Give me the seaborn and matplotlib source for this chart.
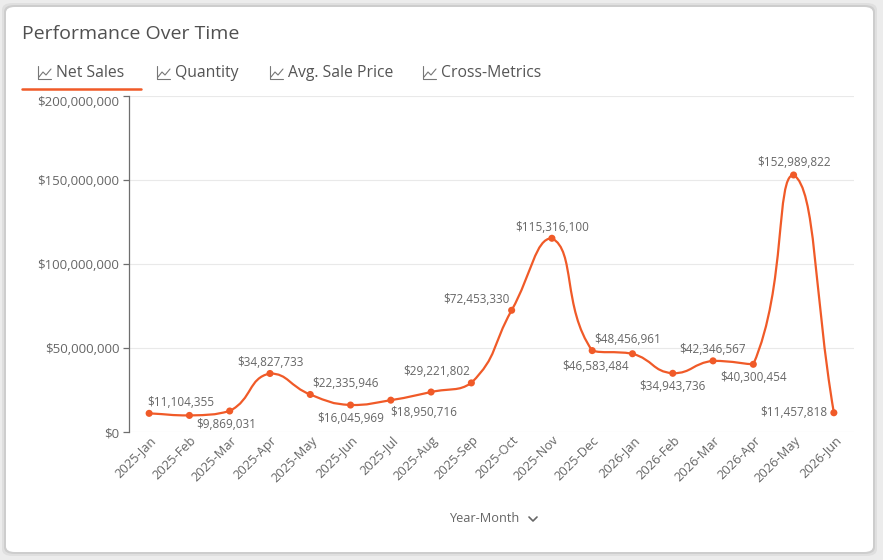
import numpy as np
import pandas as pd
import seaborn as sns
import matplotlib.pyplot as plt
import matplotlib.transforms as mtransforms
from matplotlib.path import Path
from matplotlib.patches import PathPatch, FancyBboxPatch
from matplotlib.lines import Line2D
from matplotlib.ticker import FuncFormatter

# data
months = ['2025-Jan', '2025-Feb', '2025-Mar', '2025-Apr', '2025-May', '2025-Jun',
          '2025-Jul', '2025-Aug', '2025-Sep', '2025-Oct', '2025-Nov', '2025-Dec',
          '2026-Jan', '2026-Feb', '2026-Mar', '2026-Apr', '2026-May', '2026-Jun']
net_sales = [11104355, 9869031, 12500000, 34827733, 22335946, 16045969,
             18950716, 23800000, 29221802, 72453330, 115316100, 48456961,
             46583484, 34943736, 42346567, 40300454, 152989822, 11457818]
y_ticks = [0, 50000000, 100000000, 150000000, 200000000]
tabs = ['Net Sales', 'Quantity', 'Avg. Sale Price', 'Cross-Metrics']

# label placement (pixel offsets from the point), None = label hidden
label_offsets = [(32, 11), (37, -9), None, (0, 11), (35, 11), (0, -13),
                 (33, -12), None, (-35, 11), (-35, 11), (0, 11), (35, 11),
                 (-37, -13), (0, -13), (0, 11), (0, -13), (0, 12), (-6, 0)]

ORANGE = '#f05a28'
GREY = '#666666'
W, H = 883, 560

sns.set_theme(style='white')
plt.rcParams['font.family'] = ['Open Sans', 'DejaVu Sans']


def fx(x):
    return x / W


def fy(y):
    return 1 - y / H


def smooth_path(ax, xs, ys, smooth=0.5):
    # echarts-like smoothing, worked out in screen pixels
    pts = ax.transData.transform(np.column_stack([xs, ys]))
    n = len(pts)
    cps = []
    for i in range(n):
        p = pts[i]
        prev = pts[i - 1] if i > 0 else p
        nxt = pts[i + 1] if i < n - 1 else p
        v = nxt - prev
        l0 = np.hypot(*(p - prev))
        l1 = np.hypot(*(nxt - p))
        r = l1 / (l0 + l1) if (l0 + l1) > 0 else 0.5
        c_in = np.clip(p - v * smooth * (1 - r), np.minimum(prev, p), np.maximum(prev, p))
        c_out = np.clip(p + v * smooth * r, np.minimum(p, nxt), np.maximum(p, nxt))
        cps.append((c_in, c_out))
    verts = [pts[0]]
    codes = [Path.MOVETO]
    for i in range(n - 1):
        verts += [cps[i][1], cps[i + 1][0], pts[i + 1]]
        codes += [Path.CURVE4] * 3
    verts = ax.transData.inverted().transform(np.array(verts))
    return Path(verts, codes)


fig = plt.figure(figsize=(W / 100, H / 100), dpi=100)
fig.patch.set_facecolor('#ececec')

# card
for k, a in [(4, 0.05), (2, 0.08)]:
    fig.add_artist(FancyBboxPatch((fx(6 - k), fy(552 + k)), fx(867 + 2 * k), (545 + 2 * k) / H,
                                  boxstyle='round,pad=0,rounding_size=0.012',
                                  transform=fig.transFigure, facecolor='black', alpha=a,
                                  edgecolor='none', zorder=0))
fig.add_artist(FancyBboxPatch((fx(6), fy(552)), fx(867), 545 / H,
                              boxstyle='round,pad=0,rounding_size=0.01',
                              transform=fig.transFigure, facecolor='white',
                              edgecolor='none', zorder=0))

fig.text(fx(22), fy(34), 'Performance Over Time', fontsize=14, color='#505050',
         va='center', ha='left', fontweight='medium')

# tabs
tab_x = [38, 157, 270, 423]
for t, x0 in zip(tabs, tab_x):
    fig.text(fx(x0 + 18), fy(73), t, fontsize=11.3, color='#555555', va='center', ha='left',
             fontweight='medium')
    fig.add_artist(Line2D([fx(x0), fx(x0), fx(x0 + 13)], [fy(66), fy(79), fy(79)],
                          color='#777777', lw=0.8))
    fig.add_artist(Line2D([fx(x0 + 1), fx(x0 + 5), fx(x0 + 8), fx(x0 + 13)],
                          [fy(77), fy(72), fy(75), fy(69)], color='#777777', lw=0.8))
fig.add_artist(Line2D([fx(22), fx(141)], [fy(89), fy(89)], color=ORANGE, lw=1.8))

ax = fig.add_axes([fx(129), fy(432), fx(854 - 129), (432 - 96) / H])
ax.set_facecolor('none')
ax.set_xlim(-0.5, len(months) - 0.5)
ax.set_ylim(0, 200000000)

df = pd.DataFrame({'month': months, 'pos': np.arange(len(months)), 'net_sales': net_sales})

ax.add_patch(PathPatch(smooth_path(ax, df['pos'].values, df['net_sales'].values),
                       facecolor='none', edgecolor=ORANGE, lw=1.6, zorder=3))
sns.scatterplot(data=df, x='pos', y='net_sales', color=ORANGE, s=26, edgecolor='none',
                zorder=4, ax=ax, clip_on=False)

for i, off in enumerate(label_offsets):
    if off is None:
        continue
    ha = 'right' if off[0] == -6 else 'center'
    ax.annotate('${:,.0f}'.format(net_sales[i]), (i, net_sales[i]), xytext=off,
                textcoords='offset pixels', ha=ha, va='center', fontsize=8.5, color=GREY,
                zorder=5)

ax.set_yticks(y_ticks)
ax.yaxis.set_major_formatter(FuncFormatter(lambda v, p: '${:,.0f}'.format(v)))
ax.set_xticks(df['pos'])
ax.set_xticklabels(months, rotation=45, ha='right', va='center', rotation_mode='anchor')
ax.grid(axis='y', color='#e9e9e9', lw=0.8)
ax.set_axisbelow(True)
for s in ['top', 'right', 'bottom']:
    ax.spines[s].set_visible(False)
ax.spines['left'].set_color('#6e6e6e')
ax.spines['left'].set_linewidth(0.9)
ax.tick_params(axis='y', left=True, length=4, width=0.9, color='#6e6e6e', pad=3,
               labelsize=9.5, labelcolor=GREY)
ax.tick_params(axis='x', bottom=False, pad=0, labelsize=9.3, labelcolor=GREY)
ax.get_yticklabels()[-1].set_va('top')
shift = mtransforms.ScaledTranslation(5 / 100, 2 / 100, fig.dpi_scale_trans)
for lbl in ax.get_xticklabels():
    lbl.set_transform(lbl.get_transform() + shift)
ax.set_xlabel('')
ax.set_ylabel('')

fig.text(fx(449), fy(519), 'Year-Month', fontsize=9.2, color=GREY, va='center', ha='left')
fig.add_artist(Line2D([fx(529), fx(533), fx(537)], [fy(517), fy(521), fy(517)],
                      color=GREY, lw=1.2))

fig.savefig('out.png', dpi=100, facecolor=fig.get_facecolor())
